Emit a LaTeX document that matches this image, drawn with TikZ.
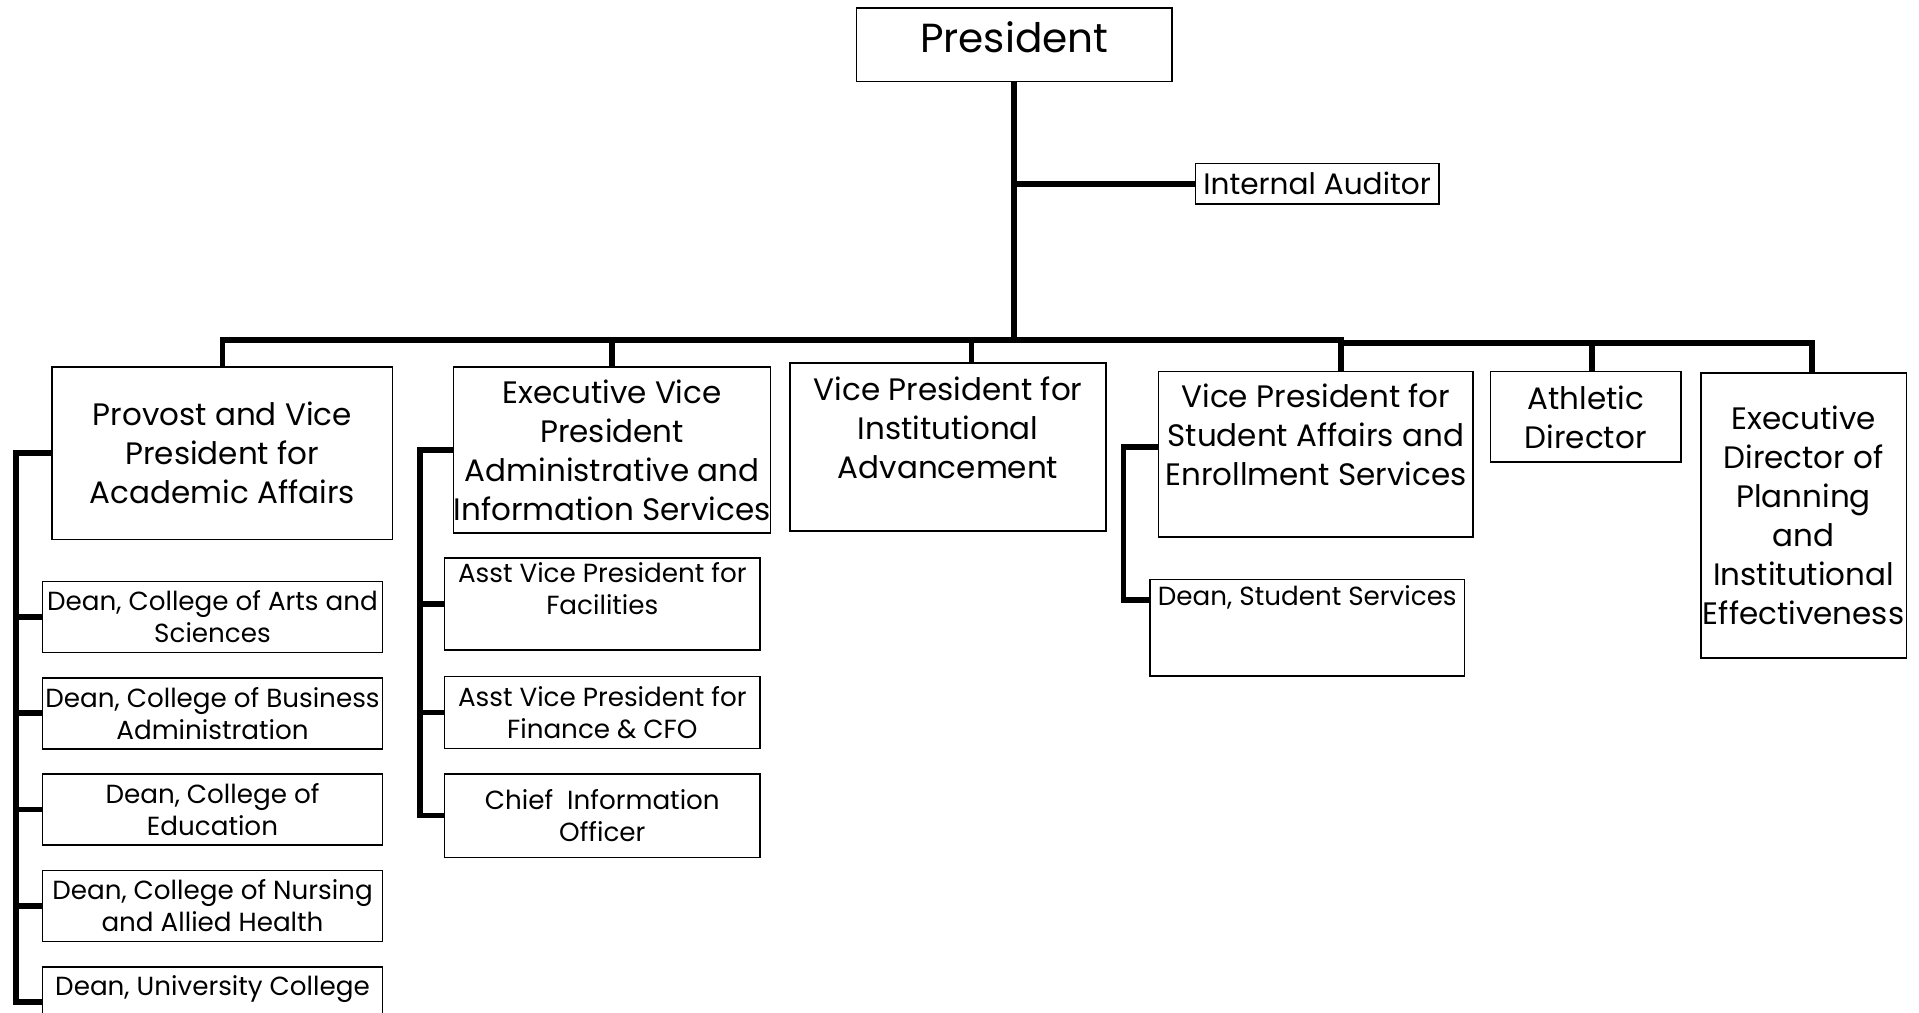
\documentclass[tikz,border=0pt]{standalone}
\usepackage{fontspec}
\setmainfont{Poppins}
\usetikzlibrary{positioning}
\tikzset{
    box/.style={draw, line width=0.8pt, inner sep=0pt, align=center}, % every position box
    link/.style={line width=2.8pt}, % the heavy reporting lines
}

\begin{document}
\begin{tikzpicture}[
    x=0.5pt, y=-0.5pt,
    bigText/.style={font=\fontsize{15.5}{19.5}\selectfont},
    smallText/.style={font=\fontsize{13.1}{16}\selectfont},
    node distance=11.9pt,
]
\path[use as bounding box, clip] (0,0) rectangle (1919,1013);

% top of the chart
\node[box, anchor=north west, minimum width=157.9pt, minimum height=36.75pt, text depth=7.4pt, font=\fontsize{20.3}{25}\selectfont] (president) at (855.5,7.3) {President};
\node[box, anchor=north west, minimum width=121.75pt, minimum height=20.2pt, font=\fontsize{14.8}{18}\selectfont] (auditor) at (1194.5,162.8) {Internal Auditor};

% second level
\node[box, bigText, anchor=north west, minimum width=170.1pt, minimum height=86.25pt] (provost) at (51.4,366) {Provost and Vice\\President for\\Academic Affairs};
\node[box, bigText, anchor=north west, minimum width=157.9pt, minimum height=83.2pt] (evp) at (452.8,366) {Executive Vice\\President\\Administrative and\\Information Services};
\node[box, bigText, anchor=north west, minimum width=157.9pt, minimum height=83.85pt] (vpia) at (789.4,362.3) {Vice President for\\Institutional\\Advancement\\~};
\node[box, bigText, anchor=north west, minimum width=157.3pt, minimum height=82.6pt] (vpsa) at (1157.8,370.8) {Vice President for\\Student Affairs and\\Enrollment Services\\~};
\node[box, bigText, anchor=north west, minimum width=95.45pt, minimum height=45.3pt] (athletic) at (1489.5,370.8) {Athletic\\Director};
\node[box, bigText, anchor=north west, minimum width=102.8pt, minimum height=142.5pt] (execdir) at (1700,372) {Executive\\Director of\\Planning\\and\\Institutional\\Effectiveness};

% deans under the provost
\node[box, smallText, minimum width=170.15pt, minimum height=35.5pt, below=20.2pt of provost, xshift=-4.9pt] (arts) {Dean, College of Arts and\\Sciences};
\node[box, smallText, minimum width=170.15pt, minimum height=35.5pt, below=of arts] (business) {Dean, College of Business\\Administration};
\node[box, smallText, minimum width=170.15pt, minimum height=35.5pt, below=of business] (education) {Dean, College of\\Education};
\node[box, smallText, minimum width=170.15pt, minimum height=35.5pt, below=of education] (nursing) {Dean, College of Nursing\\and Allied Health};
\node[box, smallText, minimum width=170.15pt, minimum height=35pt, below=of nursing] (univ) {Dean, University College\\~};

% under the executive vice president
\node[box, smallText, minimum width=157.9pt, minimum height=46pt, below=11.6pt of evp, xshift=-4.9pt] (facilities) {Asst Vice President for\\Facilities\\~};
\node[box, smallText, minimum width=157.9pt, minimum height=36.1pt, below=12.4pt of facilities] (finance) {Asst Vice President for\\Finance \& CFO};
\node[box, smallText, minimum width=157.9pt, minimum height=41.65pt, below=of finance] (cio) {Chief\ \ Information\\Officer};

% under student affairs
\node[box, smallText, minimum width=157.3pt, minimum height=48.4pt, below=20.5pt of vpsa, xshift=-4.3pt] (deanss) {Dean, Student Services\\~\\~};

% reporting lines
\coordinate (hub) at (president.south |- 0,340);
\coordinate (hubR) at ([xshift=12.5pt]vpsa.north |- 0,343);
\draw[link] (president.south) -- (hub);
\draw[link] (president.south |- auditor.west) -- (auditor.west);
\draw[link] (hub) -| (provost.north);
\draw[link] (hub) -| (evp.north);
\draw[link] (hub) -| ([xshift=11.6pt]vpia.north);
\draw[link] (hub) -| ([xshift=12.5pt]vpsa.north);
\draw[link] (hubR) -| ([xshift=3.1pt]athletic.north);
\draw[link] (hubR) -| ([xshift=4.3pt]execdir.north);

\coordinate (acad) at (provost.west -| 16,0);
\draw[link] (provost.west) -- (acad) |- (univ.west);
\foreach \n in {arts, business, education, nursing}
    \draw[link] (acad |- \n.west) -- (\n.west);

\coordinate (admin) at (evp.west -| 419.8,0);
\draw[link] (evp.west) -- (admin) |- (cio.west);
\foreach \n in {facilities, finance}
    \draw[link] (admin |- \n.west) -- (\n.west);

\coordinate (studTop) at (1123.5,447);
\coordinate (studBot) at (1123.5,600);
\draw[link] (studTop -| vpsa.west) -- (studTop) -- (studBot) -- (studBot -| deanss.west);
\end{tikzpicture}
\end{document}
